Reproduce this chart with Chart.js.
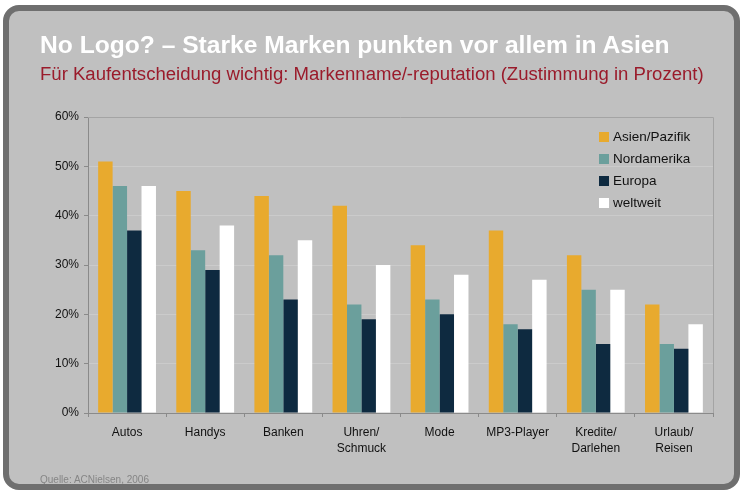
<!DOCTYPE html>
<html>
<head>
<meta charset="utf-8">
<script src="https://cdn.jsdelivr.net/npm/chart.js@4.4.1/dist/chart.umd.min.js"></script>
<style>
  body { margin: 0; background: #ffffff; font-family: "Liberation Sans", Arial, sans-serif; }
  #panel {
    position: absolute; left: 3px; top: 5px; width: 725px; height: 473px;
    border: 6px solid #6f6f6f; border-radius: 16px; background: #c0c0c0; overflow: hidden;
  }
  #title { position: absolute; left: 31px; top: 21px; color: #ffffff; font-weight: bold; font-size: 23px; white-space: nowrap; transform: scaleX(1.07); transform-origin: left center; }
  #subtitle { position: absolute; left: 31px; top: 53px; color: #9a1b2b; font-size: 18px; white-space: nowrap; transform: scaleX(1.03); transform-origin: left center; }
  #source { position: absolute; left: 31px; top: 463px; color: #858585; font-size: 10px; }
  #wrap { position: absolute; left: -1px; top: -1px; width: 727px; height: 475px; }
</style>
</head>
<body>
<div id="panel">
  <div id="wrap"><canvas id="myChart"></canvas></div>
  <div id="title">No Logo? – Starke Marken punkten vor allem in Asien</div>
  <div id="subtitle">Für Kaufentscheidung wichtig: Markenname/-reputation (Zustimmung in Prozent)</div>
  <div id="source">Quelle: ACNielsen, 2006</div>
</div>
<script>
var categories = ["Autos", "Handys", "Banken", ["Uhren/", "Schmuck"], "Mode", "MP3-Player", ["Kredite/", "Darlehen"], ["Urlaub/", "Reisen"]];
var seriesNames = ["Asien/Pazifik", "Nordamerika", "Europa", "weltweit"];
var asien = [51, 45, 44, 42, 34, 37, 32, 22];
var nordamerika = [46, 33, 32, 22, 23, 18, 25, 14];
var europa = [37, 29, 23, 19, 20, 17, 14, 13];
var weltweit = [46, 38, 35, 30, 28, 27, 25, 18];
var yTicks = [0, 10, 20, 30, 40, 50, 60];
var barColors = ["#e8aa2e", "#6b9f9c", "#0e2a40", "#ffffff"];

var seriesValues = [asien, nordamerika, europa, weltweit];

var frame = {
  id: "frame",
  beforeDatasetsDraw: function (chart) {
    var a = chart.chartArea, ctx = chart.ctx;
    ctx.save();
    ctx.strokeStyle = "#a4a4a4";
    ctx.lineWidth = 1;
    ctx.beginPath();
    ctx.moveTo(a.left, a.top + 0.5);
    ctx.lineTo(a.right + 0.5, a.top + 0.5);
    ctx.lineTo(a.right + 0.5, a.bottom);
    ctx.stroke();
    ctx.restore();
  },
  afterDraw: function (chart) {
    // legend sits inside the plot, top right
    var ctx = chart.ctx, a = chart.chartArea;
    var x = a.right - 114, y = a.top + 20;
    ctx.save();
    ctx.font = "13.5px 'Liberation Sans', Arial, sans-serif";
    ctx.textBaseline = "middle";
    chart.data.datasets.forEach(function (ds, i) {
      ctx.fillStyle = ds.backgroundColor;
      ctx.fillRect(x, y + i * 22 - 5, 10, 10);
      ctx.fillStyle = "#111111";
      ctx.fillText(ds.label, x + 14, y + i * 22);
    });
    ctx.restore();
  }
};

new Chart("myChart", {
  type: "bar",
  data: {
    labels: categories,
    datasets: seriesNames.map(function (name, i) {
      return {
        label: name,
        data: seriesValues[i],
        backgroundColor: barColors[i],
        categoryPercentage: 0.74,
        barPercentage: 1.0
      };
    })
  },
  options: {
    responsive: true,
    maintainAspectRatio: false,
    animation: false,
    layout: { padding: { left: 30, right: 22, top: 107, bottom: 22 } },
    plugins: {
      legend: { display: false },
      tooltip: { enabled: false }
    },
    scales: {
      x: {
        grid: { display: true, offset: true, drawOnChartArea: false, color: "#8a8a8a", tickLength: 4 },
        border: { color: "#8a8a8a" },
        ticks: { color: "#111111", font: { family: "'Liberation Sans', Arial, sans-serif", size: 12, lineHeight: 1.3 }, padding: 8, maxRotation: 0, autoSkip: false },
        afterFit: function (s) { s.height = 50; }
      },
      y: {
        min: 0,
        max: 60,
        afterBuildTicks: function (s) { s.ticks = yTicks.map(function (v) { return { value: v }; }); },
        grid: { color: "#cbcbcb", drawTicks: true, tickLength: 4, tickColor: "#8a8a8a" },
        border: { color: "#8a8a8a" },
        ticks: { color: "#111111", font: { family: "'Liberation Sans', Arial, sans-serif", size: 12 }, padding: 5, callback: function (v) { return v + "%"; } },
        afterFit: function (s) { s.width = 50; }
      }
    }
  },
  plugins: [frame]
});
</script>
</body>
</html>
